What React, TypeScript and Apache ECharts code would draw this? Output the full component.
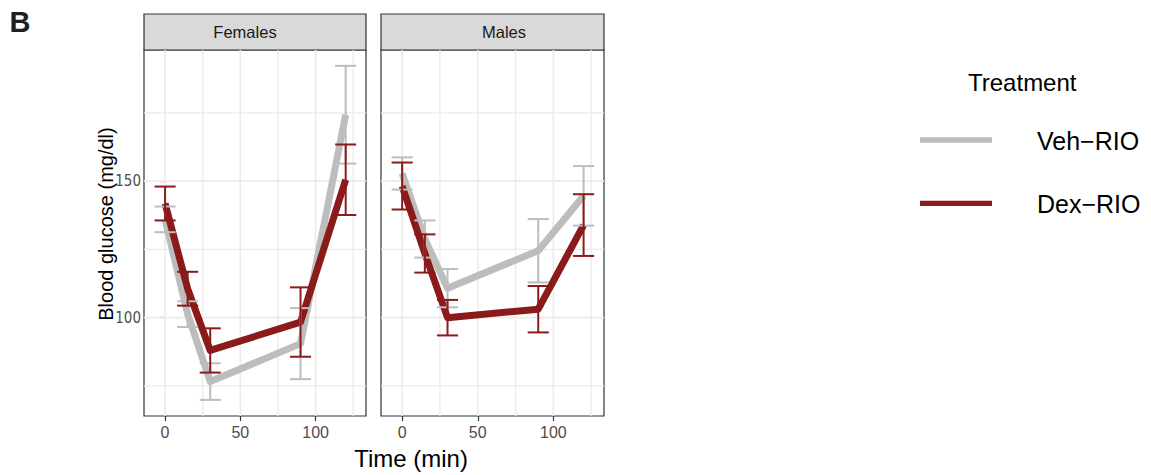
import React, { useEffect, useRef } from "react";
import * as echarts from "echarts";

// ---- data ----
const times = [0, 15, 30, 90, 120];
const panels = ["Females", "Males"];
const treatments = ["Veh−RIO", "Dex−RIO"];

const femalesVehMean = [136, 101.3, 76.6, 90.5, 174.3];
const femalesVehErr = [4.7, 4.7, 6.7, 13, 17.9];
const femalesDexMean = [141.8, 110.6, 88, 98.4, 150.5];
const femalesDexErr = [6.2, 6.2, 8.1, 12.7, 12.9];

const malesVehMean = [152.8, 128.8, 110.8, 124.5, 144.6];
const malesVehErr = [5.9, 6.8, 7, 11.6, 10.9];
const malesDexMean = [148.2, 123.5, 100, 103.1, 133.9];
const malesDexErr = [8.6, 7, 6.5, 8.5, 11.3];

const xTicks = [0, 50, 100];
const yTicks = [100, 150];
const xGrid = [0, 25, 50, 75, 100, 125];
const yGrid = [75, 100, 125, 150, 175];

// ---- layout / style ----
const X_MIN = -14;
const X_MAX = 133.5;
const Y_MIN = 64;
const Y_MAX = 198;
const CAP = 14;
const COLORS = ["#BDBDBD", "#8B1A1A"];
const FONT = '"Liberation Sans", Arial, Helvetica, sans-serif';
const NARROW = '"Liberation Sans Narrow", "Arial Narrow", "DejaVu Sans Condensed", sans-serif';

const panelData = [
  { means: [femalesVehMean, femalesDexMean], errs: [femalesVehErr, femalesDexErr] },
  { means: [malesVehMean, malesDexMean], errs: [malesVehErr, malesDexErr] },
];

const grids = [
  { left: 144, top: 50, width: 222, height: 366 },
  { left: 381, top: 50, width: 223, height: 366 },
];

function gridLineSeries(idx: number, vertical: boolean) {
  const vals = vertical ? xGrid : yGrid;
  return {
    type: "custom",
    xAxisIndex: idx,
    yAxisIndex: idx,
    z: 1,
    silent: true,
    data: vals.map((v) => (vertical ? [v, Y_MIN] : [X_MIN, v])),
    renderItem: (params: any, api: any) => {
      const cs = params.coordSys;
      const p = api.coord([api.value(0), api.value(1)]);
      const v = vertical ? api.value(0) : api.value(1);
      const major = vertical ? v % 50 === 0 : v % 50 === 0;
      const style = { stroke: "#EBEBEB", lineWidth: major ? 1.6 : 1.3 };
      if (vertical) {
        return { type: "line", shape: { x1: p[0], y1: cs.y, x2: p[0], y2: cs.y + cs.height }, style };
      }
      return { type: "line", shape: { x1: cs.x, y1: p[1], x2: cs.x + cs.width, y2: p[1] }, style };
    },
  };
}

function errorSeries(idx: number, t: number) {
  const m = panelData[idx].means[t];
  const e = panelData[idx].errs[t];
  const color = COLORS[t];
  return {
    type: "custom",
    name: treatments[t],
    xAxisIndex: idx,
    yAxisIndex: idx,
    z: 3,
    silent: true,
    dimensions: ["x", "lo", "hi"],
    encode: { x: 0, y: [1, 2] },
    data: times.map((tm, i) => [tm, m[i] - e[i], m[i] + e[i]]),
    renderItem: (params: any, api: any) => {
      const x = api.value(0);
      const pLo = api.coord([x, api.value(1)]);
      const pHi = api.coord([x, api.value(2)]);
      const half = api.size([CAP, 0])[0] / 2;
      const style = { stroke: color, lineWidth: 2 };
      return {
        type: "group",
        children: [
          { type: "line", shape: { x1: pLo[0], y1: pLo[1], x2: pHi[0], y2: pHi[1] }, style },
          { type: "line", shape: { x1: pHi[0] - half, y1: pHi[1], x2: pHi[0] + half, y2: pHi[1] }, style },
          { type: "line", shape: { x1: pLo[0] - half, y1: pLo[1], x2: pLo[0] + half, y2: pLo[1] }, style },
        ],
      };
    },
  };
}

function lineSeries(idx: number, t: number) {
  const m = panelData[idx].means[t];
  return {
    type: "line",
    name: treatments[t],
    xAxisIndex: idx,
    yAxisIndex: idx,
    z: 2,
    symbol: "none",
    silent: true,
    lineStyle: { color: COLORS[t], width: 7, join: "round", cap: "butt" },
    data: times.map((tm, i) => [tm, m[i]]),
  };
}

export default function App() {
  const ref = useRef<HTMLDivElement>(null);
  useEffect(() => {
    if (!ref.current) return;
    const chart = echarts.init(ref.current, null, { renderer: "svg" });

    const xAxes = grids.map((_, i) => ({
      type: "value",
      gridIndex: i,
      min: X_MIN,
      max: X_MAX,
      axisLine: { show: false },
      splitLine: { show: false },
      axisTick: {
        show: true,
        length: 5,
        customValues: xTicks,
        lineStyle: { color: "#333333", width: 1.2 },
      },
      axisLabel: {
        show: true,
        customValues: xTicks,
        margin: 8,
        color: "#4D4D4D",
        fontSize: 16,
        fontFamily: FONT,
      },
    }));

    const yAxes = grids.map((_, i) => ({
      type: "value",
      gridIndex: i,
      min: Y_MIN,
      max: Y_MAX,
      axisLine: { show: false },
      splitLine: { show: false },
      axisTick: {
        show: i === 0,
        length: 5,
        customValues: yTicks,
        lineStyle: { color: "#333333", width: 1.2 },
      },
      axisLabel: {
        show: i === 0,
        customValues: yTicks,
        margin: 3,
        color: "#4D4D4D",
        fontSize: 15,
        fontFamily: NARROW,
      },
    }));

    const series: any[] = [];
    [0, 1].forEach((p) => {
      series.push(gridLineSeries(p, true));
      series.push(gridLineSeries(p, false));
    });
    [0, 1].forEach((p) => {
      series.push(lineSeries(p, 0));
      series.push(lineSeries(p, 1));
      series.push(errorSeries(p, 0));
      series.push(errorSeries(p, 1));
    });

    const stripCenters = [245, 504];
    const graphic: any[] = [
      {
        type: "text",
        x: 20,
        y: 22,
        style: { text: "B", fontSize: 29, fontWeight: "bold", fontFamily: FONT, fill: "#231F20", align: "center", verticalAlign: "middle" },
      },
    ];
    grids.forEach((g, i) => {
      graphic.push({
        type: "rect",
        shape: { x: g.left, y: 14, width: g.width, height: 36 },
        style: { fill: "#D9D9D9", stroke: "#333333", lineWidth: 1.2 },
      });
      graphic.push({
        type: "text",
        x: stripCenters[i],
        y: 32,
        style: { text: panels[i], fontSize: 16.5, fontFamily: FONT, fill: "#1A1A1A", align: "center", verticalAlign: "middle" },
      });
    });
    graphic.push({
      type: "text",
      x: 411,
      y: 458,
      style: { text: "Time (min)", fontSize: 24, fontFamily: FONT, fill: "#000000", align: "center", verticalAlign: "middle" },
    });
    graphic.push({
      type: "text",
      x: 106,
      y: 224,
      rotation: Math.PI / 2,
      style: { text: "Blood glucose (mg/dl)", fontSize: 20, fontFamily: FONT, fill: "#000000", align: "center", verticalAlign: "middle" },
    });
    // legend
    graphic.push({
      type: "text",
      x: 968,
      y: 82,
      style: { text: "Treatment", fontSize: 24, fontFamily: FONT, fill: "#000000", align: "left", verticalAlign: "middle" },
    });
    const legendY = [140, 203.3];
    treatments.forEach((t, i) => {
      graphic.push({
        type: "line",
        shape: { x1: 920, y1: legendY[i], x2: 992, y2: legendY[i] },
        style: { stroke: COLORS[i], lineWidth: 5.3 },
      });
      graphic.push({
        type: "text",
        x: 1037,
        y: legendY[i] + 0.5,
        style: { text: t, fontSize: 25, fontFamily: FONT, fill: "#000000", align: "left", verticalAlign: "middle" },
      });
    });

    chart.setOption({
      animation: false,
      backgroundColor: "#FFFFFF",
      grid: grids.map((g) => ({
        ...g,
        show: true,
        backgroundColor: "#FFFFFF",
        borderColor: "#333333",
        borderWidth: 1.2,
      })),
      xAxis: xAxes,
      yAxis: yAxes,
      series,
      graphic,
    });
    return () => chart.dispose();
  }, []);

  return (
    <div
      ref={ref}
      style={{ position: "fixed", left: 0, top: 0, width: 1151, height: 475 }}
    />
  );
}
